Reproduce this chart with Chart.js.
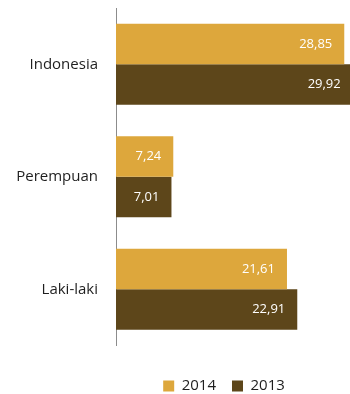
<!DOCTYPE html>
<html>
<head>
<meta charset="utf-8">
<script src="https://cdn.jsdelivr.net/npm/chart.js@4/dist/chart.umd.min.js"></script>
<style>
  html, body { margin: 0; padding: 0; background: #fff; }
  canvas { display: block; }
</style>
</head>
<body>
<canvas id="barras" width="350" height="394"></canvas>
<script>
const kategori = ['Indonesia', 'Perempuan', 'Laki-laki'];
const tahun = ['2014', '2013'];
const nilai2014 = [28.85, 7.24, 21.61];
const nilai2013 = [29.92, 7.01, 22.91];
const warna = ['#DDA73C', '#5D461A'];

const fontUtama = 'Open Sans';

// angka di ujung dalam batang, koma sebagai desimal
const labelNilai = {
  id: 'labelNilai',
  afterDatasetsDraw(chart) {
    const ctx = chart.ctx;
    const skalaX = chart.scales.x;
    ctx.save();
    ctx.font = '13px "' + fontUtama + '"';
    ctx.fillStyle = '#ffffff';
    ctx.textAlign = 'right';
    ctx.textBaseline = 'middle';
    chart.data.datasets.forEach((ds, i) => {
      const meta = chart.getDatasetMeta(i);
      meta.data.forEach((bar, j) => {
        const v = ds.data[j];
        const x = skalaX.getPixelForValue(v) - 12;
        ctx.fillText(v.toFixed(2).replace('.', ','), x, bar.y);
      });
    });
    ctx.restore();
  }
};

function grafik_batang() {
  const ctx = document.getElementById('barras');
  new Chart(ctx, {
    type: 'bar',
    data: {
      labels: kategori,
      datasets: [
        { label: tahun[0], data: nilai2014, backgroundColor: warna[0], categoryPercentage: 0.72, barPercentage: 1, clip: false },
        { label: tahun[1], data: nilai2013, backgroundColor: warna[1], categoryPercentage: 0.72, barPercentage: 1, clip: false }
      ]
    },
    options: {
      indexAxis: 'y',
      responsive: false,
      animation: false,
      layout: { padding: { top: 8, left: 0, right: 18, bottom: 0 } },
      scales: {
        x: {
          min: 0,
          max: 27.3,
          grid: { display: false },
          border: { display: false },
          ticks: { display: false },
          afterFit(s) { s.height = 17; }
        },
        y: {
          grid: { display: false, drawTicks: false },
          border: { display: true, color: '#8c8c8c', width: 1 },
          ticks: {
            padding: 18,
            color: '#1e1e1e',
            font: { family: fontUtama, size: 15 }
          },
          afterFit(s) {
            s.width = 116;
            s.paddingTop = 0;
            s.paddingBottom = 0;
          }
        }
      },
      plugins: {
        legend: {
          position: 'bottom',
          fullSize: false,
          maxHeight: 31.5,
          labels: {
            boxWidth: 11,
            boxHeight: 11,
            padding: 16,
            color: '#1e1e1e',
            font: { family: fontUtama, size: 15 }
          }
        },
        tooltip: { enabled: false }
      }
    },
    plugins: [labelNilai]
  });
}

grafik_batang();
</script>
</body>
</html>
